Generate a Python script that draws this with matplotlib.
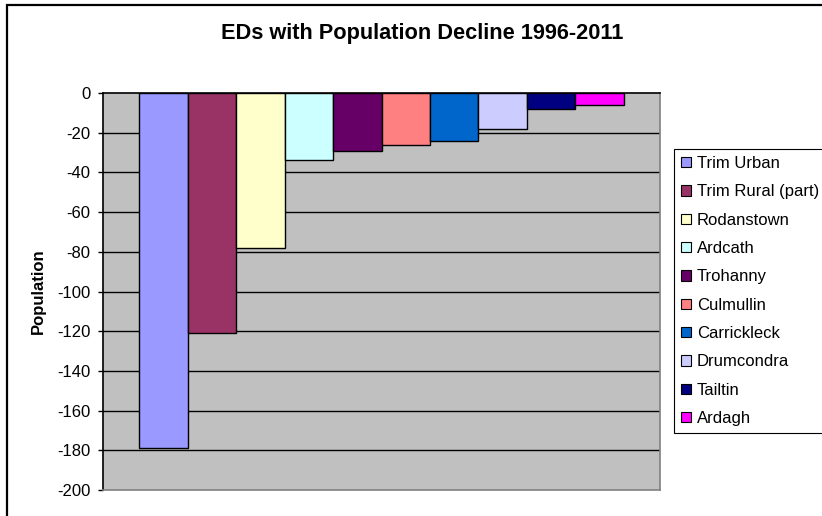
import matplotlib
matplotlib.use("Agg")
import matplotlib.pyplot as plt
from matplotlib.patches import Rectangle, Patch

plt.rcParams['font.family'] = ['Liberation Sans', 'DejaVu Sans']

# Electoral divisions and their population change 1996-2011
eds = ["Trim Urban", "Trim Rural (part)", "Rodanstown", "Ardcath", "Trohanny",
       "Culmullin", "Carrickleck", "Drumcondra", "Tailtin", "Ardagh"]
change = [-179, -121, -78, -34, -29, -26, -24, -18, -8, -6]
colors = ["#9999FF", "#993366", "#FFFFCC", "#CCFFFF", "#660066",
          "#FF8080", "#0066CC", "#CCCCFF", "#000080", "#FF00FF"]
yticks = list(range(0, -201, -20))

fig = plt.figure(figsize=(8.22, 5.16), dpi=100)
fig.patch.set_facecolor("white")

# outer chart-area border
fig.patches.append(Rectangle((7 / 822, -0.5), 2.0, 1.5 - 5 / 516,
                             transform=fig.transFigure, fill=False,
                             edgecolor="black", linewidth=1.6, zorder=0))

ax = fig.add_axes([103 / 822, 1 - 490 / 516, (660 - 103) / 822, (490 - 93) / 516])
ax.set_facecolor("#C0C0C0")

# one category, ten series, 150% gap width
n = len(change)
w = 1.0 / (n + 1.5)
for i, (name, val, col) in enumerate(zip(eds, change, colors)):
    ax.bar(0.75 * w + i * w, val, width=w, align="edge", color=col,
           edgecolor="black", linewidth=1.0, label=name, zorder=3)

ax.set_xlim(0, 1)
ax.set_ylim(-200, 0)
ax.set_yticks(yticks)
ax.set_yticklabels([str(t) for t in yticks], fontsize=12)
ax.set_xticks([])
ax.tick_params(axis="y", direction="out", length=3.6, width=1, color="black", pad=5.5)

for t in yticks[1:-1]:
    ax.axhline(t, color="black", linewidth=1.0, zorder=1)

for side in ("top", "left"):
    ax.spines[side].set_color("black")
    ax.spines[side].set_linewidth(1.2)
for side in ("right", "bottom"):
    ax.spines[side].set_color("#808080")
    ax.spines[side].set_linewidth(1.2)
ax.spines["top"].set_zorder(4)

ax.set_ylabel("Population", fontsize=12, fontweight="bold", labelpad=8)

fig.text(422 / 822, 1 - 33 / 516, "EDs with Population Decline 1996-2011",
         ha="center", va="center", fontsize=15.7, fontweight="bold")

handles = [Patch(facecolor=c, edgecolor="black", linewidth=0.8) for c in colors]
leg = fig.legend(handles, eds, loc="upper left",
                 bbox_to_anchor=(674 / 822, 1 - 149 / 516),
                 fontsize=12, frameon=True, fancybox=False, framealpha=1,
                 edgecolor="black", handlelength=0.6, handleheight=0.6,
                 handletextpad=0.36, labelspacing=0.80, borderpad=0.42,
                 borderaxespad=0)
leg.get_frame().set_linewidth(0.8)

fig.savefig("out.png", dpi=100)
